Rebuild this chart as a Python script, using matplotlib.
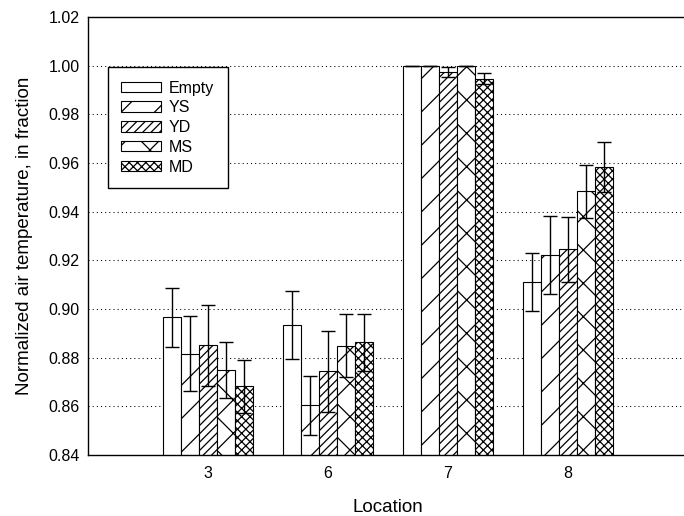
import matplotlib
matplotlib.use("Agg")
import matplotlib.pyplot as plt
import numpy as np

plt.rcParams['font.family'] = ['Liberation Sans', 'DejaVu Sans']
plt.rcParams['hatch.linewidth'] = 0.9

locations = ["3", "6", "7", "8"]
series = ["Empty", "YS", "YD", "MS", "MD"]
hatches = ["", "/", "////", "x", "xxxx"]

# normalized temperature per series, one value per location
values = {
    "Empty": [0.8966, 0.8934, 1.0000, 0.9111],
    "YS":    [0.8816, 0.8604, 1.0000, 0.9221],
    "YD":    [0.8851, 0.8744, 0.9975, 0.9245],
    "MS":    [0.8748, 0.8849, 1.0000, 0.9484],
    "MD":    [0.8682, 0.8863, 0.9947, 0.9582],
}
errors = {
    "Empty": [0.0121, 0.0140, 0.0, 0.0120],
    "YS":    [0.0154, 0.0120, 0.0, 0.0160],
    "YD":    [0.0166, 0.0167, 0.0021, 0.0134],
    "MS":    [0.0115, 0.0130, 0.0, 0.0109],
    "MD":    [0.0109, 0.0118, 0.0023, 0.0103],
}


def main():
    fig = plt.figure(figsize=(6.84, 5.16), dpi=100)
    ax = fig.add_axes([88 / 684, 1 - 455 / 516, 600 / 684, 438 / 516])

    width = 0.15
    x = np.arange(1, len(locations) + 1)
    for i, (name, hatch) in enumerate(zip(series, hatches)):
        pos = x + (i - 2) * width
        ax.bar(pos, values[name], width=width, color="white", edgecolor="black",
               linewidth=0.8, hatch=hatch, label=name, zorder=2)
        ax.errorbar(pos, values[name], yerr=errors[name], fmt="none", ecolor="black",
                    elinewidth=1.0, capsize=4.7, capthick=1.0, zorder=3)

    ax.set_xlim(0, 5)
    ax.set_ylim(0.84, 1.02)
    yt = np.arange(0.84, 1.021, 0.02)
    ax.set_yticks(yt)
    ax.set_yticklabels(["%.2f" % v for v in yt])
    ax.set_xticks(x, locations)
    ax.tick_params(length=0, labelsize=11.5)
    ax.tick_params(axis="y", pad=6)
    ax.tick_params(axis="x", pad=8)

    for v in np.arange(0.86, 1.001, 0.02):
        ax.axhline(v, color="black", linewidth=0.75, linestyle=(0, (1, 3)), zorder=1)

    for s in ax.spines.values():
        s.set_linewidth(1.0)

    ax.set_xlabel("Location", fontsize=13.5, labelpad=13)
    ax.set_ylabel("Normalized air temperature, in fraction", fontsize=13.5, labelpad=11)

    leg = ax.legend(loc="upper left", bbox_to_anchor=(0.033, 0.886), fontsize=11.5,
                    fancybox=False, edgecolor="black", framealpha=1,
                    handlelength=2.5, handleheight=0.63, labelspacing=0.3,
                    borderpad=0.85, handletextpad=0.47, borderaxespad=0)
    leg.get_frame().set_linewidth(1.0)

    fig.savefig("out.png", dpi=100)


if __name__ == "__main__":
    main()
